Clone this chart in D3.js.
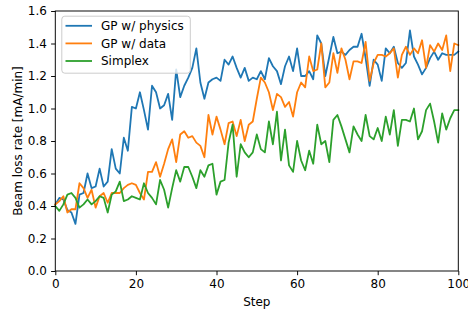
<!DOCTYPE html>
<html><head><meta charset="utf-8">
<script src="https://cdn.jsdelivr.net/npm/d3@7"></script>
<style>body{margin:0;background:#fff}svg{display:block}text{font-family:"DejaVu Sans",sans-serif}</style>
</head><body>
<svg id="c" width="468" height="311"></svg>
<script>
const seriesNames = ["GP w/ physics", "GP w/ data", "Simplex"];
const seriesColors = ["#1f77b4", "#ff7f0e", "#2ca02c"];
const gpPhysics = [0.41,0.45,0.44,0.375,0.36,0.29,0.47,0.48,0.60,0.51,0.52,0.63,0.52,0.55,0.75,0.63,0.60,0.82,0.74,1.01,
1.00,1.10,0.99,0.87,1.14,1.10,1.00,1.02,1.09,0.93,1.24,1.07,1.14,1.19,1.25,1.37,1.16,1.06,1.16,1.18,
1.19,1.17,1.30,1.27,1.32,1.25,1.19,1.25,1.17,1.19,1.18,1.23,1.18,1.31,1.26,1.23,1.15,1.26,1.32,1.23,
1.37,1.20,1.20,1.23,1.18,1.45,1.40,1.20,1.32,1.44,1.34,1.35,1.33,1.36,1.38,1.38,1.46,1.31,1.14,1.30,
1.27,1.17,1.37,1.34,1.38,1.28,1.25,1.28,1.48,1.32,1.27,1.21,1.25,1.31,1.35,1.30,1.34,1.33,1.33,1.33,1.35];
const gpData = [0.41,0.43,0.46,0.36,0.38,0.38,0.54,0.51,0.45,0.50,0.39,0.46,0.48,0.42,0.48,0.48,0.48,0.51,0.53,0.54,
0.53,0.48,0.44,0.61,0.61,0.67,0.58,0.66,0.75,0.81,0.67,0.84,0.86,0.82,0.83,0.79,0.77,0.70,0.96,0.84,
0.95,0.87,0.78,0.91,0.92,0.83,0.93,0.80,0.90,0.92,1.06,1.19,1.16,1.10,0.99,1.09,1.07,1.01,1.04,0.95,
1.10,1.16,1.13,1.32,1.23,1.24,1.40,1.13,1.16,1.34,1.22,1.37,1.30,1.18,1.29,1.29,1.28,1.41,1.17,1.28,
1.33,1.33,1.32,1.34,1.37,1.19,1.33,1.38,1.33,1.37,1.34,1.42,1.25,1.39,1.35,1.40,1.36,1.45,1.23,1.40,1.39];
const simplex = [0.40,0.37,0.41,0.47,0.48,0.45,0.39,0.41,0.44,0.41,0.43,0.46,0.45,0.36,0.47,0.49,0.55,0.43,0.44,0.46,
0.45,0.44,0.54,0.48,0.45,0.41,0.56,0.50,0.39,0.51,0.62,0.55,0.64,0.64,0.58,0.51,0.62,0.58,0.65,0.66,
0.47,0.55,0.56,0.79,0.90,0.58,0.78,0.73,0.70,0.73,0.84,0.75,0.73,0.92,0.78,0.98,0.68,0.87,0.65,0.61,
0.80,0.68,0.62,0.74,0.66,0.90,0.78,0.80,0.67,0.93,0.96,0.89,0.81,0.73,0.89,0.84,0.80,0.96,0.83,0.81,
0.88,0.80,0.95,0.84,0.99,0.77,0.93,0.93,0.92,1.00,0.81,0.86,0.99,1.03,0.92,0.79,0.97,0.87,0.94,0.99,0.99];
const xTicks = [0,20,40,60,80,100];
const yTicks = [0.0,0.2,0.4,0.6,0.8,1.0,1.2,1.4,1.6];
const xLabel = "Step";
const yLabel = "Beam loss rate [mA/min]";

const FS = 12;
const svg = d3.select("#c");
const L = 55.3, R = 458.3, T = 11, B = 271;
const x = d3.scaleLinear().domain([0,100]).range([L,R]);
const y = d3.scaleLinear().domain([0,1.6]).range([B,T]);

const data = [gpPhysics, gpData, simplex];
const line = d3.line().x((d,i)=>x(i)).y(d=>y(d));
const g = svg.append("g");
data.forEach((s,k)=>{
  g.append("path").datum(s).attr("d", line).attr("fill","none")
   .attr("stroke", seriesColors[k]).attr("stroke-width",1.8)
   .attr("stroke-linejoin","round").attr("stroke-linecap","square");
});

// axes
const xa = svg.append("g").attr("transform",`translate(0,${B})`)
  .call(d3.axisBottom(x).tickValues(xTicks).tickSize(4.2).tickPadding(4.2).tickFormat(d3.format("d")));
const ya = svg.append("g").attr("transform",`translate(${L},0)`)
  .call(d3.axisLeft(y).tickValues(yTicks).tickSize(4.2).tickPadding(4.2).tickFormat(d3.format(".1f")));
[xa,ya].forEach(a=>{
  a.select(".domain").remove();
  a.selectAll("line").attr("stroke","#000").attr("stroke-width",0.96);
  a.selectAll("text").attr("font-size",FS).attr("fill","#000").style("font-family","DejaVu Sans");
});
// spines
svg.append("rect").attr("x",L).attr("y",T).attr("width",R-L).attr("height",B-T)
  .attr("fill","none").attr("stroke","#000").attr("stroke-width",0.96);

svg.append("text").attr("x",(L+R)/2).attr("y",305.5).attr("text-anchor","middle")
  .attr("font-size",FS).text(xLabel);
svg.append("text").attr("transform",`translate(21.5,${(T+B)/2}) rotate(-90)`)
  .attr("text-anchor","middle").attr("font-size",FS).text(yLabel);

// legend
const lg = svg.append("g");
lg.append("rect").attr("x",61.8).attr("y",16.2).attr("width",128.5).attr("height",57).attr("rx",3)
  .attr("fill","#fff").attr("fill-opacity",0.8).attr("stroke","#cccccc").attr("stroke-width",1);
seriesNames.forEach((n,k)=>{
  const yy = 25.8 + k*17.6;
  lg.append("line").attr("x1",65.5).attr("x2",92).attr("y1",yy).attr("y2",yy)
    .attr("stroke",seriesColors[k]).attr("stroke-width",1.8);
  lg.append("text").attr("x",101).attr("y",yy+4.4).attr("font-size",FS).text(n);
});
</script>
</body></html>
